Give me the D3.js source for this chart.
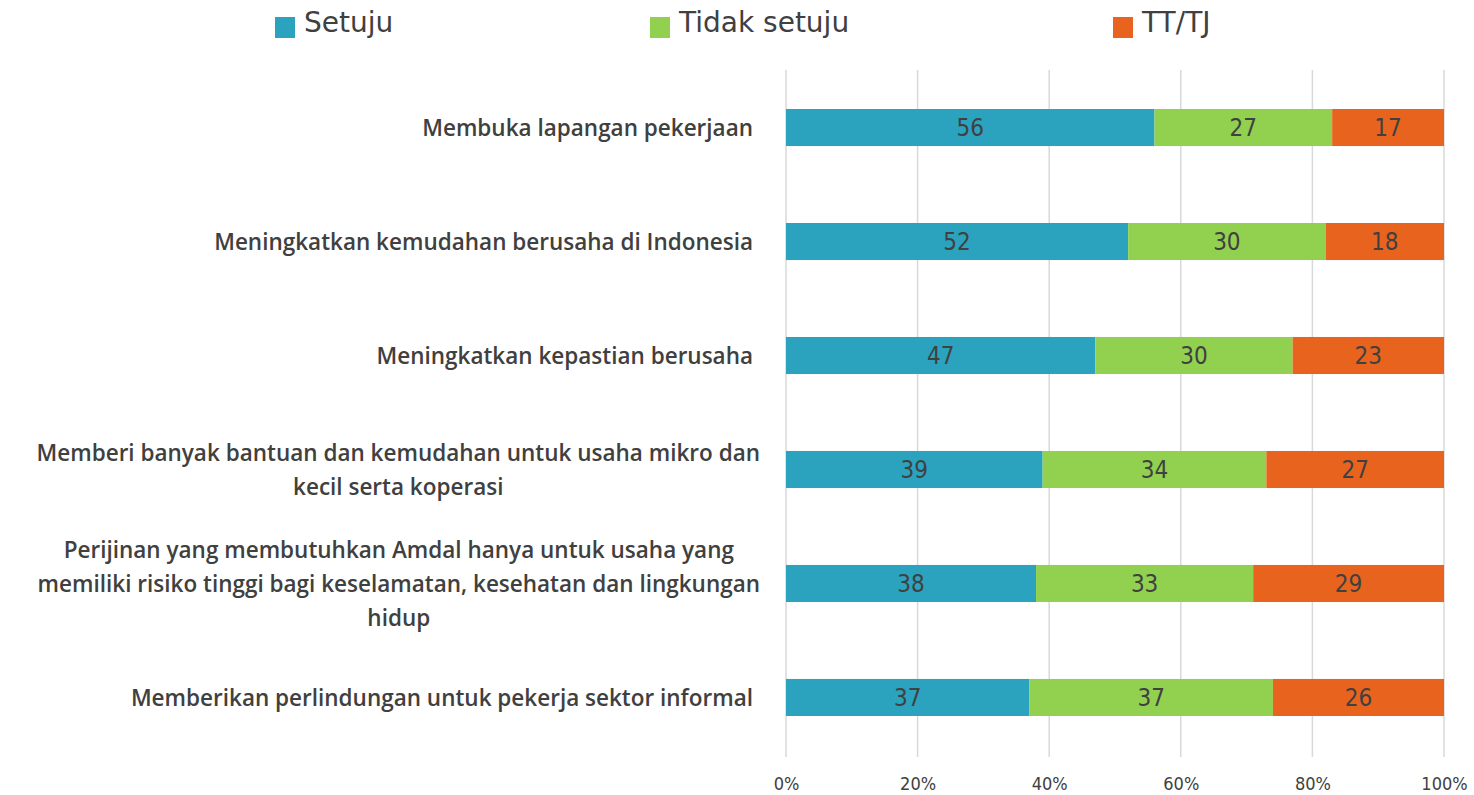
<!DOCTYPE html>
<html>
<head>
<meta charset="utf-8">
<script src="https://cdn.jsdelivr.net/npm/d3@7"></script>
<style>
  body { margin: 0; background: #fff; }
  svg text { font-family: "Open Sans", sans-serif; fill: #404040; }
</style>
</head>
<body>
<div id="main"></div>
<script>
var categories = [
    "Membuka lapangan pekerjaan",
    "Meningkatkan kemudahan berusaha di Indonesia",
    "Meningkatkan kepastian berusaha",
    "Memberi banyak bantuan dan kemudahan untuk usaha mikro dan|kecil serta koperasi",
    "Perijinan yang membutuhkan Amdal hanya untuk usaha yang|memiliki risiko tinggi bagi keselamatan, kesehatan dan lingkungan|hidup",
    "Memberikan perlindungan untuk pekerja sektor informal"
];
var seriesNames = ["Setuju", "Tidak setuju", "TT/TJ"];
var setuju = [56, 52, 47, 39, 38, 37];
var tidakSetuju = [27, 30, 30, 34, 33, 37];
var ttTj = [17, 18, 23, 27, 29, 26];
var tickValues = [0, 0.2, 0.4, 0.6, 0.8, 1];

var ctx = {
    w: 1474,
    h: 795,
    left: 786,
    right: 1444,
    top: 70,
    bottom: 757,
    colors: ["#2ba3bf", "#92d050", "#e8641e"]
};

var createViz = function () {
    var svg = d3.select("#main").append("svg")
        .attr("width", ctx.w)
        .attr("height", ctx.h);

    var rows = categories.map(function (c, i) {
        return { cat: c, vals: [setuju[i], tidakSetuju[i], ttTj[i]] };
    });

    var x = d3.scaleLinear().domain([0, 1]).range([ctx.left, ctx.right]);
    var y = d3.scaleBand().domain(d3.range(rows.length))
        .range([109, 716]).paddingInner(0.675).paddingOuter(0);

    // gridlines
    svg.append("g").selectAll("line").data(tickValues).enter().append("line")
        .attr("x1", function (d) { return x(d); })
        .attr("x2", function (d) { return x(d); })
        .attr("y1", ctx.top)
        .attr("y2", ctx.bottom)
        .attr("stroke", "#d9d9d9")
        .attr("stroke-width", 1.5);

    // x axis labels
    var xAxis = svg.append("g")
        .attr("transform", "translate(0," + (ctx.bottom + 17) + ")")
        .call(d3.axisBottom(x).tickValues(tickValues).tickFormat(d3.format(".0%")).tickSize(0));
    xAxis.select(".domain").remove();
    xAxis.selectAll("text")
        .style("font-size", "18px")
        .style("font-family", "'DejaVu Sans Condensed', 'Open Sans', sans-serif")
        .attr("fill", "#404040");

    // bars
    rows.forEach(function (r, i) {
        var total = d3.sum(r.vals);
        var cum = 0;
        r.vals.forEach(function (v, k) {
            var x0 = x(cum / total);
            var x1 = x((cum + v) / total);
            svg.append("rect")
                .attr("x", x0)
                .attr("y", y(i))
                .attr("width", x1 - x0)
                .attr("height", y.bandwidth())
                .attr("fill", ctx.colors[k]);
            svg.append("text")
                .attr("x", (x0 + x1) / 2)
                .attr("y", y(i) + y.bandwidth() / 2)
                .attr("dy", "0.36em")
                .attr("text-anchor", "middle")
                .style("font-size", "24px")
                .style("font-family", "'DejaVu Sans Condensed', 'Open Sans', sans-serif")
                .text(v);
            cum += v;
        });
    });

    // category labels: block right-aligned, lines centered within block
    var lineH = 34;
    rows.forEach(function (r, i) {
        var lines = r.cat.split("|");
        var g = svg.append("g");
        var cy = y(i) + y.bandwidth() / 2;
        var texts = lines.map(function (l, j) {
            return g.append("text")
                .attr("y", cy + (j - (lines.length - 1) / 2) * lineH)
                .attr("dy", "0.36em")
                .attr("text-anchor", "middle")
                .style("font-size", "22.5px")
                .style("font-weight", "600")
                .style("font-family", "'Open Sans', sans-serif")
                .text(l);
        });
        var maxW = d3.max(texts, function (t) { return t.node().getComputedTextLength(); });
        var cx = (lines.length > 1 ? 760 : 753) - maxW / 2;
        texts.forEach(function (t) { t.attr("x", cx); });
    });

    // legend
    var legendX = [275, 650, 1113];
    seriesNames.forEach(function (s, k) {
        var g = svg.append("g").attr("transform", "translate(" + legendX[k] + ",0)");
        g.append("rect").attr("x", 0).attr("y", 17).attr("width", 20).attr("height", 21)
            .attr("fill", ctx.colors[k]);
        g.append("text").attr("x", 29).attr("y", 22).attr("dy", "0.36em")
            .style("font-size", "28px")
            .style("font-family", "'DejaVu Sans', 'Open Sans', sans-serif")
            .text(s);
    });
};

createViz();
</script>
</body>
</html>
